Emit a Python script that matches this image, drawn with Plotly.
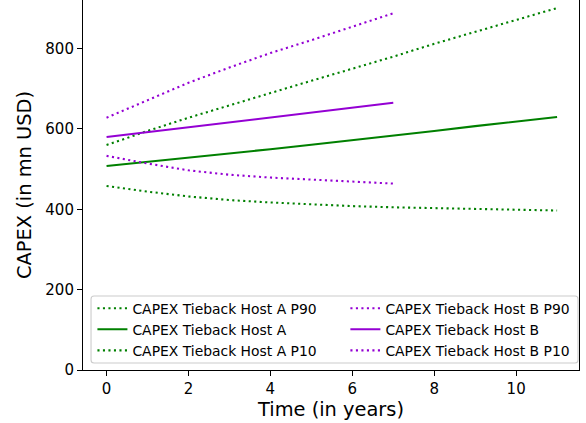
import plotly.graph_objects as go

years_a = [0, 1, 2, 3, 4, 5, 6, 7, 8, 9, 10, 11]
years_b = [0, 1, 2, 3, 4, 5, 6, 7]

host_a_p90 = [560, 595, 628, 659, 690, 720, 750, 780, 812, 842, 871, 901]
host_a = [508, 518, 528.5, 539, 549.5, 560.5, 571.5, 583, 595, 607, 618, 630]
host_a_p10 = [458, 444, 432, 423, 417, 412, 408, 405, 403, 401, 399, 397]

host_b_p90 = [628, 672, 715, 753, 789, 821, 854, 888]
host_b = [580, 592, 604, 616, 628, 640, 652, 665]
host_b_p10 = [533, 514, 497, 486, 479, 474, 469, 464]

x_ticks = [0, 2, 4, 6, 8, 10]
y_ticks = [0, 200, 400, 600, 800]

GREEN = "#008000"
PURPLE = "#9400D3"
DOT = "2.1px,3.4px"
LW = 2.08

fig = go.Figure()

series = [
    ("CAPEX Tieback Host A P90", years_a, host_a_p90, GREEN, DOT, "legend"),
    ("CAPEX Tieback Host A", years_a, host_a, GREEN, "solid", "legend"),
    ("CAPEX Tieback Host A P10", years_a, host_a_p10, GREEN, DOT, "legend"),
    ("CAPEX Tieback Host B P90", years_b, host_b_p90, PURPLE, DOT, "legend2"),
    ("CAPEX Tieback Host B", years_b, host_b, PURPLE, "solid", "legend2"),
    ("CAPEX Tieback Host B P10", years_b, host_b_p10, PURPLE, DOT, "legend2"),
]
for name, xs, ys, col, dash, leg in series:
    fig.add_trace(go.Scatter(
        x=xs, y=ys, mode="lines", name=name, legend=leg,
        line=dict(color=col, width=LW, dash=dash),
    ))

# legend frame (matplotlib-like rounded box), paper coords of plot area
x0, x1 = 0.0162, 0.998
y0, y1 = 0.0189, 0.2
rx, ry = 0.006, 0.008
path = (f"M{x0+rx},{y0} L{x1-rx},{y0} Q{x1},{y0} {x1},{y0+ry} "
        f"L{x1},{y1-ry} Q{x1},{y1} {x1-rx},{y1} L{x0+rx},{y1} "
        f"Q{x0},{y1} {x0},{y1-ry} L{x0},{y0+ry} Q{x0},{y0} {x0+rx},{y0} Z")
fig.add_shape(type="path", path=path, xref="paper", yref="paper",
              line=dict(color="#cccccc", width=1.1),
              fillcolor="rgba(255,255,255,0.8)", layer="above")

font_family = "DejaVu Sans"
fig.update_layout(
    width=586, height=423,
    margin=dict(l=83, r=7, t=0, b=53, autoexpand=False),
    paper_bgcolor="white", plot_bgcolor="white",
    font=dict(family=font_family, color="black", size=15),
    legend=dict(x=0.019, y=0.209, xanchor="left", yanchor="top",
                bgcolor="rgba(0,0,0,0)", borderwidth=0,
                font=dict(size=13.9, family=font_family), itemwidth=30),
    legend2=dict(x=0.529, y=0.209, xanchor="left", yanchor="top",
                 bgcolor="rgba(0,0,0,0)", borderwidth=0,
                 font=dict(size=13.9, family=font_family), itemwidth=30),
    xaxis=dict(range=[-0.575, 11.535], tickvals=x_ticks,
               ticktext=[str(v) for v in x_ticks], automargin=False,
               showgrid=False, zeroline=False,
               showline=True, linecolor="black", linewidth=1.1, mirror=True,
               ticks="outside", ticklen=5, tickwidth=1.1, tickcolor="black",
               tickfont=dict(size=15),
               title=dict(text="Time (in years)", font=dict(size=19.4), standoff=4)),
    yaxis=dict(range=[0, 921], tickvals=y_ticks,
               ticktext=[str(v) for v in y_ticks], automargin=False,
               showgrid=False, zeroline=False,
               showline=True, linecolor="black", linewidth=1.1, mirror=True,
               ticks="outside", ticklen=5, tickwidth=1.1, tickcolor="black",
               tickfont=dict(size=15),
               title=dict(text="CAPEX (in mn USD)", font=dict(size=19.4), standoff=8)),
)

fig.write_html("out.html", config={"displayModeBar": False},
               post_script="document.body.style.margin='0';document.body.style.overflow='hidden';")
